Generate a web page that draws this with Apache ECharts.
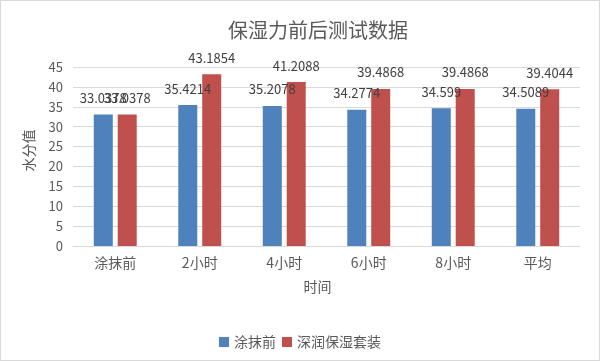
<!DOCTYPE html>
<html><head><meta charset="utf-8">
<script src="https://cdn.jsdelivr.net/npm/echarts@6/dist/echarts.min.js"></script>
<style>html,body{margin:0;padding:0;background:#fff}#c{width:600px;height:361px;box-sizing:border-box;border:1px solid #d9d9d9}</style>
</head><body><div id="c"></div>
<script>
const categories = ['涂抹前','2小时','4小时','6小时','8小时','平均'];
const seriesNames = ['涂抹前','深润保湿套装'];
const beforeValues = [33.0378, 35.4214, 35.2078, 34.2774, 34.599, 34.5089];
const afterValues = [33.0378, 43.1854, 41.2088, 39.4868, 39.4868, 39.4044];
const FONT = '"Noto Sans CJK SC", "Noto Sans", sans-serif';
const chart = echarts.init(document.getElementById('c'));
const label = {show:true, position:'top', distance:10, color:'#404040', fontSize:13, fontFamily:FONT};
chart.setOption({
  animation:false,
  textStyle:{fontFamily:FONT},
  title:{text:'保湿力前后测试数据', left:312, textAlign:'center', top:14,
    textStyle:{fontSize:20, fontWeight:'normal', color:'#595959', fontFamily:FONT}},
  grid:{left:72, right:19, top:66, bottom:114, containLabel:false},
  legend:{data:seriesNames, left:'center', top:329, itemWidth:10, itemHeight:10, itemGap:6,
    icon:'rect', textStyle:{fontSize:14, color:'#595959', fontFamily:FONT}},
  xAxis:{type:'category', data:categories, name:'时间', nameLocation:'middle', nameGap:34,
    nameTextStyle:{fontSize:14, color:'#595959', padding:[0,18,0,0]},
    axisLine:{lineStyle:{color:'#d9d9d9'}}, axisTick:{show:false},
    axisLabel:{fontSize:14, color:'#595959', margin:10}},
  yAxis:{type:'value', min:0, max:45, interval:5, name:'水分值', nameLocation:'middle', nameGap:37,
    nameTextStyle:{fontSize:14, color:'#595959', padding:[0,0,0,12]},
    axisLine:{show:false}, axisTick:{show:false},
    axisLabel:{fontSize:13, color:'#595959', margin:10},
    splitLine:{lineStyle:{color:'#d9d9d9'}}},
  series:[
    {name:seriesNames[0], type:'bar', data:beforeValues, barWidth:19, barGap:'26%',
      itemStyle:{color:'#4F81BD'}, label:label},
    {name:seriesNames[1], type:'bar', data:afterValues, barWidth:19,
      itemStyle:{color:'#C0504D'}, label:label}
  ]
});
</script></body></html>
